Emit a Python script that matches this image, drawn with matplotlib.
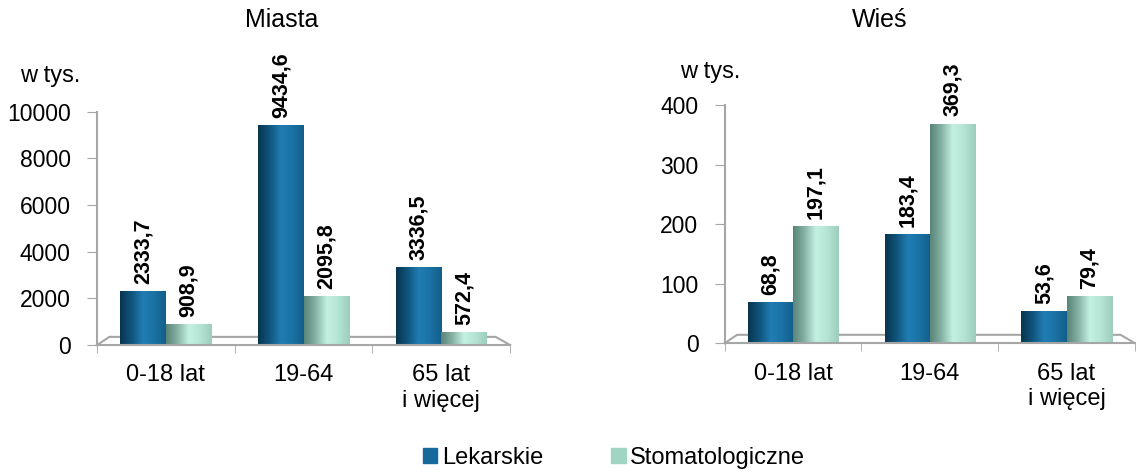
import numpy as np
import matplotlib.pyplot as plt
from matplotlib.colors import LinearSegmentedColormap

plt.rcParams['font.family'] = ['Liberation Sans', 'DejaVu Sans']

categories = ['0-18 lat', '19-64', '65 lat\ni więcej']
series_names = ['Lekarskie', 'Stomatologiczne']
miasta_lek = [2333.7, 9434.6, 3336.5]
miasta_stom = [908.9, 2095.8, 572.4]
wies_lek = [68.8, 183.4, 53.6]
wies_stom = [197.1, 369.3, 79.4]

blue_cmap = LinearSegmentedColormap.from_list(
    'b', ['#083650', '#11557d', '#1f7db3', '#1b72a4', '#135f8b'])
green_cmap = LinearSegmentedColormap.from_list(
    'g', ['#5a8579', '#86b3a5', '#c3f1e2', '#b4e4d4', '#9ccdbd'])
legend_colors = ['#17699b', '#a0d4c3']

grad = np.linspace(0, 1, 64).reshape(1, -1)


def fmt(v):
    return f'{v:.1f}'.replace('.', ',')


def cylinder_bars(ax, xs, vals, width, cmap, label_pad):
    bars = ax.bar(xs, vals, width, color='none', edgecolor='none')
    for b, v in zip(bars, vals):
        x0, w, h = b.get_x(), b.get_width(), b.get_height()
        im = ax.imshow(grad, cmap=cmap, aspect='auto',
                       extent=(x0, x0 + w, 0, h), zorder=2)
        im.set_clip_path(b)
        ax.text(x0 + w / 2, h + label_pad, fmt(v), rotation=90,
                ha='center', va='bottom', fontsize=15.5, fontweight='bold',
                clip_on=False)
    return bars


def panel(ax, lek, stom, top, step):
    x = np.arange(len(categories))
    w = 0.33
    cylinder_bars(ax, x - w / 2, lek, w, blue_cmap, top * 0.03)
    cylinder_bars(ax, x + w / 2, stom, w, green_cmap, top * 0.03)
    ax.set_xlim(-0.5, 2.5)
    ax.set_ylim(0, top)
    ax.set_yticks(np.arange(0, top + 1, step))
    ax.set_xticks(x)
    ax.set_xticklabels(categories, fontsize=17, linespacing=1.2)
    ax.set_xticks([-0.5, 0.5, 1.5, 2.5], minor=True)
    ax.tick_params(axis='x', which='major', length=0, pad=14)
    ax.tick_params(axis='x', which='minor', length=6, color='#a6a6a6',
                   direction='out')
    ax.tick_params(axis='y', labelsize=16.5, length=7, color='#a6a6a6',
                   pad=12)
    for s in ['top', 'right']:
        ax.spines[s].set_visible(False)
    for s in ['left', 'bottom']:
        ax.spines[s].set_color('#a6a6a6')
        ax.spines[s].set_linewidth(1.5)
    # floor back edge
    ax.plot([0.0, 0.03, 0.965, 1.0], [0.0, 0.035, 0.035, 0.0],
            transform=ax.transAxes, color='#a6a6a6', lw=1.5,
            clip_on=False, zorder=1)


fig = plt.figure(figsize=(11.36, 4.72), dpi=100)
ax1 = fig.add_axes([0.0854, 0.269, 0.3636, 0.494])
ax2 = fig.add_axes([0.638, 0.273, 0.361, 0.504])

panel(ax1, miasta_lek, miasta_stom, 10000, 2000)
panel(ax2, wies_lek, wies_stom, 400, 100)

fig.text(282 / 1136, 1 - 20 / 472, 'Miasta', fontsize=18,
         ha='center', va='center')
fig.text(880 / 1136, 1 - 20 / 472, 'Wieś', fontsize=18,
         ha='center', va='center')
fig.text(20 / 1136, 1 - 76 / 472, 'w tys.', fontsize=17,
         ha='left', va='center')
fig.text(680 / 1136, 1 - 72 / 472, 'w tys.', fontsize=17,
         ha='left', va='center')

handles = [plt.Rectangle((0, 0), 1, 1, color=c) for c in legend_colors]
fig.legend(handles, series_names, loc='center', ncol=2,
           bbox_to_anchor=(614 / 1136, 1 - 458 / 472), frameon=False,
           fontsize=17, handlelength=0.6, handleheight=0.6,
           handletextpad=0.2, columnspacing=2.9, borderpad=0)

fig.savefig('out.png', dpi=100)
